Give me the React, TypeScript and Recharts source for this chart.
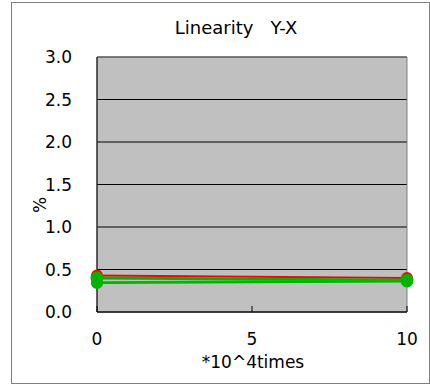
import React from 'react';
import {
  LineChart,
  Line,
  XAxis,
  YAxis,
  CartesianGrid,
  ReferenceArea,
} from 'recharts';

// x positions, in units of 10^4 times
const xValues = [0, 10];
// the deviation series (%)
const redSeries = [0.43, 0.4];
const greenSeriesA = [0.4, 0.375];
const greenSeriesB = [0.35, 0.37];
const greenSeriesC = [0.34, 0.36];

const xTicks = [0, 5, 10];
const yTicks = [0, 0.5, 1, 1.5, 2, 2.5, 3];

const FONT = '"DejaVu Sans", Verdana, sans-serif';

const chartData = xValues.map((x, i) => ({
  x,
  red: redSeries[i],
  gA: greenSeriesA[i],
  gB: greenSeriesB[i],
  gC: greenSeriesC[i],
}));

function XTick(props: any) {
  const { x, y, payload } = props;
  return (
    <g>
      <line x1={x} y1={y} x2={x} y2={y - 6} stroke="#000" />
      <text x={x} y={y + 33} textAnchor="middle" fontSize={17} fill="#000" fontFamily={FONT}>
        {payload.value}
      </text>
    </g>
  );
}

function YTick(props: any) {
  const { x, y, payload } = props;
  return (
    <text x={x - 25} y={y + 6} textAnchor="end" fontSize={17} fill="#000" fontFamily={FONT}>
      {Number(payload.value).toFixed(1)}
    </text>
  );
}

export default function App() {
  return (
    <div style={{ position: 'absolute', left: 0, top: 0, width: 430, height: 385, background: '#fff' }}>
      <div
        style={{
          position: 'absolute',
          left: 11,
          top: 2,
          width: 419,
          height: 382,
          border: '1px solid #808080',
          boxSizing: 'border-box',
        }}
      />
      <LineChart
        width={430}
        height={385}
        data={chartData}
        margin={{ top: 57, right: 23, left: 11, bottom: 2 }}
        style={{ position: 'absolute', left: 0, top: 0, fontFamily: FONT }}
      >
        <text x={236} y={34} textAnchor="middle" fontSize={18} fill="#000" fontFamily={FONT} style={{ whiteSpace: 'pre' }}>
          {'Linearity   Y-X'}
        </text>
        <CartesianGrid
          horizontal
          vertical={false}
          fill="#C0C0C0"
          fillOpacity={1}
          stroke="#000"
          horizontalValues={yTicks}
        />
        <ReferenceArea x1={0} x2={10} y1={0} y2={3} fill="none" stroke="#808080" strokeWidth={1} />
        <XAxis
          dataKey="x"
          type="number"
          domain={[0, 10]}
          ticks={xTicks}
          height={71}
          axisLine={{ stroke: '#000' }}
          tickLine={false}
          tickSize={0}
          tickMargin={0}
          tick={<XTick />}
          label={{
            content: () => (
              <text x={253} y={368} textAnchor="middle" fontSize={17} fill="#000" fontFamily={FONT}>
                *10^4times
              </text>
            ),
          }}
        />
        <YAxis
          type="number"
          domain={[0, 3]}
          ticks={yTicks}
          width={86}
          axisLine={{ stroke: '#000' }}
          tickLine={false}
          tickSize={0}
          tickMargin={0}
          tick={<YTick />}
          label={{
            content: () => (
              <text
                x={40}
                y={205}
                transform="rotate(-90 40 205)"
                textAnchor="middle"
                dominantBaseline="central"
                fontSize={17}
                fill="#000"
                fontFamily={FONT}
              >
                %
              </text>
            ),
          }}
        />
        <Line dataKey="red" stroke="#FF0000" strokeWidth={2} dot={{ r: 5, fill: '#FF0000', stroke: '#FF0000' }} isAnimationActive={false} />
        <Line dataKey="gA" stroke="#00B400" strokeWidth={3} dot={{ r: 5, fill: '#00B400', stroke: '#00B400' }} isAnimationActive={false} />
        <Line dataKey="gB" stroke="#00C000" strokeWidth={2} dot={{ r: 5, fill: '#00B400', stroke: '#00B400' }} isAnimationActive={false} />
        <Line dataKey="gC" stroke="#00B400" strokeWidth={2} dot={{ r: 5, fill: '#00B400', stroke: '#00B400' }} isAnimationActive={false} />
      </LineChart>
    </div>
  );
}
